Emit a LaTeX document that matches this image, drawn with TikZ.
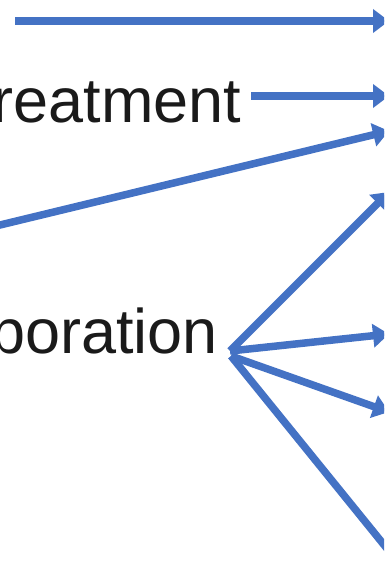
\documentclass[tikz,border=0pt]{standalone}
\usepackage{fontspec}
\setmainfont{Liberation Sans}
\usetikzlibrary{arrows.meta}
\definecolor{linkblue}{HTML}{4472C4}
\definecolor{inkgray}{HTML}{1A1A1A}
\begin{document}
\begin{tikzpicture}[x=1pt,y=-1pt,
  lbl/.style={inner sep=0pt, text=inkgray, font=\fontsize{63}{75}\selectfont},
  conn/.style={draw=linkblue, line width=7.5pt,
    -{Triangle[length=16pt,width=23pt]}}]
\useasboundingbox (0,0) rectangle (384,577);
\clip (0,0) rectangle (384,577);

% labels (cut by the page edge on the left)
\node[lbl, anchor=base east] (treat) at (241.3,122.7) {reatment};
\node[lbl, anchor=base east] (porat) at (218.2,353) {poration};

% connector ends
\coordinate (topsrc)   at (15,21);
\coordinate (toptip)   at (389,21);
\coordinate (treatsrc) at (251,96);
\coordinate (treattip) at (389,96);
\coordinate (diagsrc)  at (-60,239.5);
\coordinate (diagtip)  at (389,131);
\coordinate (hubup)    at (230,351);
\coordinate (hubdown)  at (231,356);
\coordinate (tipa)     at (389,192);
\coordinate (tipb)     at (389,334);
\coordinate (tipc)     at (389,412);
\coordinate (tipd)     at (440,614);

% connectors
\draw[conn] (topsrc) -- (toptip);
\draw[conn] (treatsrc) -- (treattip);
\draw[conn] (diagsrc) -- (diagtip);
\draw[conn] (hubup) -- (tipa);
\draw[conn] (hubup) -- (tipb);
\draw[conn] (hubdown) -- (tipc);
\draw[conn] (hubdown) -- (tipd);
\end{tikzpicture}
\end{document}
